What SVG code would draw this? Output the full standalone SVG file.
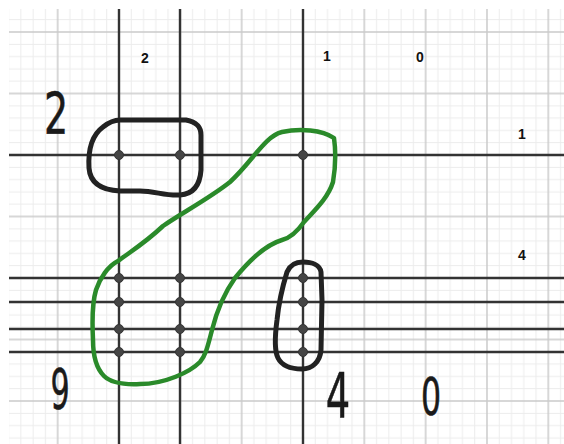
<svg xmlns="http://www.w3.org/2000/svg" width="564" height="444" viewBox="0 0 564 444">
<style>
.ln{stroke:#333;stroke-width:2.4;fill:none}
.dot{fill:#454545;stroke:#333;stroke-width:1}
.blob{fill:none;stroke:#222;stroke-width:5;stroke-linejoin:round;stroke-linecap:round}
.green{fill:none;stroke:#2a8a2a;stroke-width:4.5;stroke-linejoin:round;stroke-linecap:round}
.lbl{font-family:"Liberation Sans",Arial,sans-serif;font-weight:bold;font-size:14px;fill:#111;text-anchor:middle}
.hand{font-family:"DejaVu Sans",sans-serif;fill:#1a1a1a;stroke:#1a1a1a;stroke-width:0.6;text-anchor:middle}
</style>
<defs>
<pattern id="grid" patternUnits="userSpaceOnUse" x="27" y="1.25" width="61.33" height="61.5">
<g stroke="#ececec" stroke-width="1">
<line x1="6.13" y1="0" x2="6.13" y2="61.5"/>
<line x1="18.4" y1="0" x2="18.4" y2="61.5"/>
<line x1="42.93" y1="0" x2="42.93" y2="61.5"/>
<line x1="55.2" y1="0" x2="55.2" y2="61.5"/>
<line x1="0" y1="6.15" x2="61.33" y2="6.15"/>
<line x1="0" y1="18.45" x2="61.33" y2="18.45"/>
<line x1="0" y1="43.05" x2="61.33" y2="43.05"/>
<line x1="0" y1="55.35" x2="61.33" y2="55.35"/>
</g>
<g stroke="#cacaca" stroke-width="1.5">
<line x1="30.67" y1="0" x2="30.67" y2="61.5"/>
<line x1="0" y1="30.75" x2="61.33" y2="30.75"/>
</g>
</pattern>
</defs>
<rect width="564" height="444" fill="#fff"/>
<rect x="9" y="9" width="555" height="435" fill="url(#grid)"/>

<g id="connectors">
<line class="ln" x1="9" y1="155" x2="564" y2="155"/>
<line class="ln" x1="9" y1="278" x2="564" y2="278"/>
<line class="ln" x1="9" y1="302" x2="564" y2="302"/>
<line class="ln" x1="9" y1="329" x2="564" y2="329"/>
<line class="ln" x1="9" y1="352" x2="564" y2="352"/>
<line class="ln" x1="119" y1="9" x2="119" y2="444"/>
<line class="ln" x1="180" y1="9" x2="180" y2="444"/>
<line class="ln" x1="303" y1="9" x2="303" y2="444"/>
</g>

<g id="shapes">
<path id="black-box-top" class="blob" d="M120,120 L186,120 C196,122 201,126 201,135 L201,170 C200,185 193,194 180,195 C165,196 155,191 140,191 L120,191 C100,190 90,182 89,168 C88,150 92,135 103,127 C108,123 113,120 120,120 Z"/>
<path id="black-box-right" class="blob" d="M303,262 C312,262 320,265 321,272 L322,300 L321,350 C320,362 312,369 302,369 C292,369 282,366 278,358 C274,350 275,335 277,320 C279,300 283,285 287,272 C290,265 296,262 303,262 Z"/>
<path id="green-region" class="green" d="M282,132 C300,128 322,130 334,138 C336,152 335,170 333,182 C328,198 315,210 304,222 C297,232 290,238 282,240 C265,245 248,262 235,278 C225,292 217,310 212,330 C208,345 206,355 200,362 C190,372 165,384 140,384 C120,385 110,382 104,376 C96,368 93,355 93,340 C92,320 93,300 96,290 C100,278 108,266 118,261 C130,252 145,243 163,226 C180,214 210,198 230,182 C252,162 265,136 282,132 Z"/>
</g>

<g id="nodes">
<g id="n-119-155"><circle class="dot" cx="119" cy="155" r="4.5"/></g>
<g id="n-180-155"><circle class="dot" cx="180" cy="155" r="4.5"/></g>
<g id="n-303-155"><circle class="dot" cx="303" cy="155" r="4.5"/></g>
<g id="n-119-278"><circle class="dot" cx="119" cy="278" r="4.5"/></g>
<g id="n-119-302"><circle class="dot" cx="119" cy="302" r="4.5"/></g>
<g id="n-119-329"><circle class="dot" cx="119" cy="329" r="4.5"/></g>
<g id="n-119-352"><circle class="dot" cx="119" cy="352" r="4.5"/></g>
<g id="n-180-278"><circle class="dot" cx="180" cy="278" r="4.5"/></g>
<g id="n-180-302"><circle class="dot" cx="180" cy="302" r="4.5"/></g>
<g id="n-180-329"><circle class="dot" cx="180" cy="329" r="4.5"/></g>
<g id="n-180-352"><circle class="dot" cx="180" cy="352" r="4.5"/></g>
<g id="n-303-278"><circle class="dot" cx="303" cy="278" r="4.5"/></g>
<g id="n-303-302"><circle class="dot" cx="303" cy="302" r="4.5"/></g>
<g id="n-303-329"><circle class="dot" cx="303" cy="329" r="4.5"/></g>
<g id="n-303-352"><circle class="dot" cx="303" cy="352" r="4.5"/></g>
</g>

<g id="labels">
<text class="lbl" x="145" y="63">2</text>
<text class="lbl" x="327" y="61">1</text>
<text class="lbl" x="420" y="62">0</text>
<text class="lbl" x="522" y="139">1</text>
<text class="lbl" x="522" y="260">4</text>
</g>

<g id="hand-labels">
<text class="hand" font-size="56" transform="translate(56,134) scale(0.68,1)">2</text>
<text class="hand" font-size="55" transform="translate(60,408) scale(0.55,1)">9</text>
<text class="hand" font-size="62" transform="translate(338,418) scale(0.62,1)">4</text>
<text class="hand" font-size="51" transform="translate(431,415) scale(0.62,1)">0</text>
</g>
</svg>
